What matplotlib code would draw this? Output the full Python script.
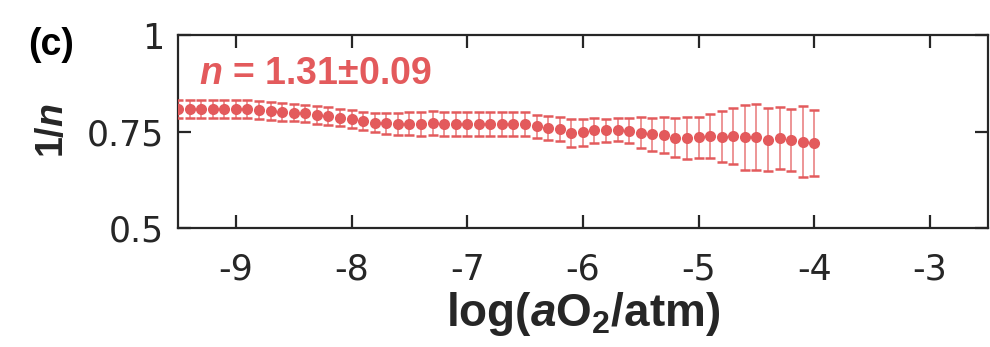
import matplotlib.pyplot as plt

plt.rcParams['font.family'] = ['DejaVu Sans']
plt.rcParams['axes.unicode_minus'] = False
plt.rcParams['mathtext.fontset'] = 'custom'
plt.rcParams['mathtext.rm'] = 'Liberation Sans:bold'
plt.rcParams['mathtext.bf'] = 'Liberation Sans:bold'
plt.rcParams['mathtext.it'] = 'Liberation Sans:bold:italic'

# log(aO2/atm), step 0.1
log_ao2 = [-9.5, -9.4, -9.3, -9.2, -9.1, -9.0, -8.9, -8.8, -8.7, -8.6,
           -8.5, -8.4, -8.3, -8.2, -8.1, -8.0, -7.9, -7.8, -7.7, -7.6,
           -7.5, -7.4, -7.3, -7.2, -7.1, -7.0, -6.9, -6.8, -6.7, -6.6,
           -6.5, -6.4, -6.3, -6.2, -6.1, -6.0, -5.9, -5.8, -5.7, -5.6,
           -5.5, -5.4, -5.3, -5.2, -5.1, -5.0, -4.9, -4.8, -4.7, -4.6,
           -4.5, -4.4, -4.3, -4.2, -4.1, -4.0]
inv_n = [0.808, 0.808, 0.808, 0.808, 0.808, 0.808, 0.808, 0.806, 0.803, 0.801,
         0.799, 0.797, 0.793, 0.790, 0.786, 0.782, 0.778, 0.773, 0.771, 0.770,
         0.770, 0.770, 0.771, 0.770, 0.770, 0.770, 0.770, 0.770, 0.770, 0.770,
         0.769, 0.763, 0.758, 0.756, 0.747, 0.748, 0.753, 0.753, 0.755, 0.752,
         0.747, 0.743, 0.741, 0.734, 0.734, 0.735, 0.739, 0.737, 0.739, 0.735,
         0.736, 0.729, 0.734, 0.728, 0.724, 0.721]
inv_n_err = [0.023, 0.023, 0.023, 0.023, 0.023, 0.023, 0.023, 0.023, 0.023, 0.023,
             0.023, 0.023, 0.023, 0.023, 0.023, 0.023, 0.023, 0.025, 0.027, 0.029,
             0.030, 0.031, 0.031, 0.031, 0.031, 0.031, 0.031, 0.031, 0.031, 0.031,
             0.031, 0.031, 0.031, 0.031, 0.036, 0.035, 0.032, 0.029, 0.029, 0.032,
             0.040, 0.043, 0.047, 0.050, 0.054, 0.053, 0.057, 0.065, 0.073, 0.084,
             0.085, 0.082, 0.080, 0.081, 0.091, 0.086]

xticks = [-9, -8, -7, -6, -5, -4, -3]
yticks = [0.5, 0.75, 1]
yticklabels = ['0.5', '0.75', '1']

red = '#E35A5C'
dark = '#262626'

fig = plt.figure(figsize=(9.9, 3.47), dpi=100)
ax = fig.add_axes([0.1798, 0.343, 0.818, 0.556])

eb = ax.errorbar(log_ao2, inv_n, yerr=inv_n_err, fmt='o', color=red, ms=8,
                 mec='none', ecolor=red, elinewidth=1.2, capsize=3.8,
                 capthick=1.8, zorder=3)
eb[2][0].set_alpha(0.75)

ax.set_xlim(-9.5, -2.5)
ax.set_ylim(0.5, 1)
ax.set_xticks(xticks)
ax.set_yticks(yticks)
ax.set_yticklabels(yticklabels)
ax.tick_params(direction='in', length=9.5, width=1.6, colors=dark,
               labelsize=25, top=True, right=True)
ax.tick_params(axis='x', pad=18)
ax.tick_params(axis='y', pad=10)
for s in ax.spines.values():
    s.set_linewidth(1.6)
    s.set_color(dark)

ax.set_xlabel(r'log($a$O$_{2}$/atm)', fontsize=33, fontweight='bold',
              family='Liberation Sans', color=dark, va='top')
ax.xaxis.set_label_coords(0.5, -0.32)
ax.set_ylabel(r'1/$n$', fontsize=27, fontweight='bold',
              family='Liberation Sans', color=dark)
ax.yaxis.set_label_coords(-0.132, 0.505)

ax.text(-9.32, 0.900, r'$n$ = 1.31±0.09', color=red, fontsize=27,
        fontweight='bold', family='Liberation Sans', va='center', ha='left')
fig.text(0.0515, 0.870, '(c)', fontsize=27, fontweight='bold',
         family='Liberation Sans', color='black', va='center', ha='center')

plt.savefig('out.png', dpi=100)
